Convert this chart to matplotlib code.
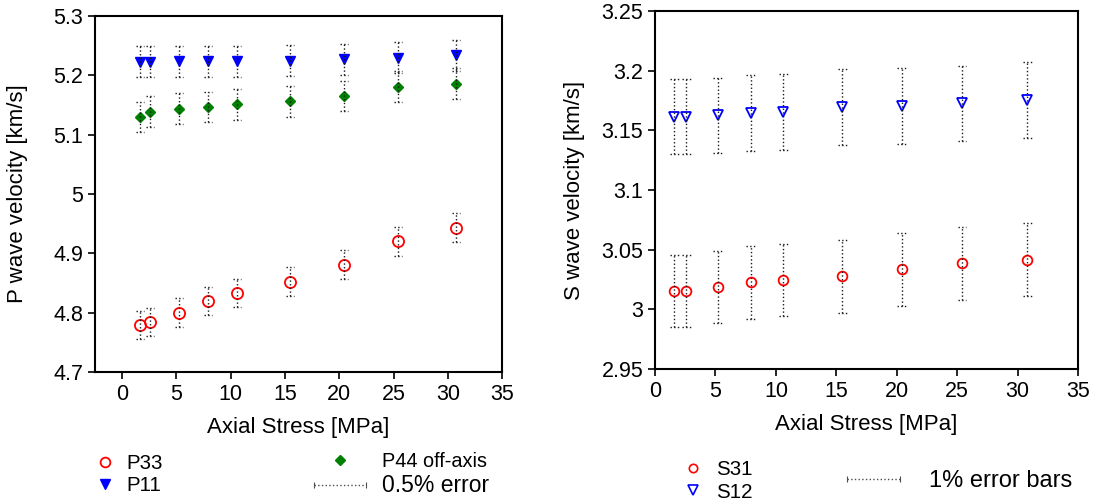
import numpy as np
import matplotlib.pyplot as plt
from matplotlib.lines import Line2D
from matplotlib.legend_handler import HandlerLine2D

plt.rcParams['font.family'] = ['Liberation Sans', 'DejaVu Sans']
plt.rcParams['font.size'] = 15

# tensao axial [MPa]
tensao = [1.6, 2.6, 5.2, 7.9, 10.6, 15.5, 20.4, 25.4, 30.8]

# velocidades P [km/s]
p33 = [4.779, 4.784, 4.800, 4.820, 4.833, 4.852, 4.881, 4.920, 4.943]
p11 = [5.223, 5.223, 5.224, 5.224, 5.224, 5.225, 5.227, 5.230, 5.234]
p44 = [5.130, 5.139, 5.144, 5.147, 5.151, 5.156, 5.165, 5.181, 5.186]

# velocidades S [km/s]
s31 = [3.0155, 3.0155, 3.0185, 3.0225, 3.0245, 3.0275, 3.0335, 3.0385, 3.0415]
s12 = [3.1615, 3.1615, 3.1625, 3.1645, 3.1655, 3.1695, 3.1705, 3.1725, 3.1755]

yticks_p = [4.7, 4.8, 4.9, 5.0, 5.1, 5.2, 5.3]
ylabels_p = ['4.7', '4.8', '4.9', '5', '5.1', '5.2', '5.3']
yticks_s = [2.95, 3.0, 3.05, 3.1, 3.15, 3.2, 3.25]
ylabels_s = ['2.95', '3', '3.05', '3.1', '3.15', '3.2', '3.25']
xticks = [0, 5, 10, 15, 20, 25, 30, 35]


def barras(ax, x, y, frac, meia=0.37):
    x = np.array(x)
    y = np.array(y)
    err = y * frac
    estilo = dict(colors='0.1', linestyles=':', linewidth=1, zorder=4)
    ax.vlines(x, y - err, y + err, **estilo)
    ax.hlines(y - err, x - meia, x + meia, **estilo)
    ax.hlines(y + err, x - meia, x + meia, **estilo)


def estilo_eixo(ax):
    for s in ax.spines.values():
        s.set_linewidth(1.5)
    ax.tick_params(direction='out', length=5, width=1.2, top=False, right=False, labelsize=15.5)


fig = plt.figure(figsize=(11, 5.04), dpi=100)

# painel P
ax1 = fig.add_axes([0.0864, 0.2619, 0.37, 0.7063])
ax1.plot(tensao, p33, 'o', ms=8, mfc='none', mec='red', mew=1.3, zorder=3)
ax1.plot(tensao, p11, 'v', ms=7.5, color='blue', zorder=3)
ax1.plot(tensao, p44, 'D', ms=5.5, color='green', zorder=3)
for serie in (p33, p11, p44):
    barras(ax1, tensao, serie, 0.005)
ax1.set_xlim(-2.5, 35)
ax1.set_ylim(4.7, 5.3)
ax1.set_xticks(xticks)
ax1.set_yticks(yticks_p)
ax1.set_yticklabels(ylabels_p)
ax1.set_xlabel('Axial Stress [MPa]', fontsize=16, labelpad=9)
ax1.set_ylabel('P wave velocity [km/s]', fontsize=16, labelpad=18)
estilo_eixo(ax1)

# painel S
ax2 = fig.add_axes([0.5955, 0.2679, 0.3845, 0.7103])
ax2.plot(tensao, s31, 'o', ms=7, mfc='none', mec='red', mew=1.3, zorder=3)
ax2.plot(tensao, s12, 'v', ms=7.5, mfc='none', mec='blue', mew=1.3, zorder=3)
for serie in (s31, s12):
    barras(ax2, tensao, serie, 0.01)
ax2.set_xlim(0, 35)
ax2.set_ylim(2.95, 3.25)
ax2.set_xticks(xticks)
ax2.set_yticks(yticks_s)
ax2.set_yticklabels(ylabels_s)
ax2.set_xlabel('Axial Stress [MPa]', fontsize=16, labelpad=9)
ax2.set_ylabel('S wave velocity [km/s]', fontsize=16, labelpad=12)
estilo_eixo(ax2)

# legendas
h_p33 = Line2D([], [], ls='none', marker='o', ms=7, mfc='none', mec='red', mew=1.3)
h_p11 = Line2D([], [], ls='none', marker='v', ms=6.5, color='blue')
h_p44 = Line2D([], [], ls='none', marker='D', ms=5, color='green')
h_err = Line2D([], [], ls=':', color='0.3', lw=1, marker='|', ms=5, mew=0.8)
h_s31 = Line2D([], [], ls='none', marker='o', ms=6, mfc='none', mec='red', mew=1.2)
h_s12 = Line2D([], [], ls='none', marker='v', ms=6.5, mfc='none', mec='blue', mew=1.2)
hm = {h_err: HandlerLine2D(numpoints=2)}

leg_kw = dict(frameon=False, labelspacing=0.15, borderpad=0, borderaxespad=0, loc='center left')
l1 = fig.legend([h_p33, h_p11], ['P33', 'P11'], bbox_to_anchor=(0.0845, 0.0585),
                fontsize=14.8, handlelength=1.2, handletextpad=0.45, **leg_kw)
l2 = fig.legend([h_p44, h_err], ['P44 off-axis', '0.5% error'], bbox_to_anchor=(0.28, 0.0585),
                fontsize=14.3, handlelength=3.2, handletextpad=0.55, handler_map=hm, **leg_kw)
l2.get_texts()[1].set_fontsize(16.5)
l3 = fig.legend([h_s31, h_s12], ['S31', 'S12'], bbox_to_anchor=(0.619, 0.0456),
                fontsize=14.8, handlelength=1.2, handletextpad=0.5, **leg_kw)
l4 = fig.legend([h_err], ['1% error bars'], bbox_to_anchor=(0.7636, 0.0456),
                fontsize=17, handlelength=2.84, handletextpad=0.93, handler_map=hm, **leg_kw)

fig.savefig('out.png', dpi=100)
